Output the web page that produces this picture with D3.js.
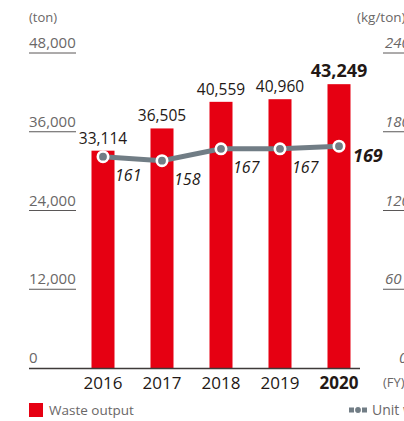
<!DOCTYPE html>
<html>
<head>
<meta charset="utf-8">
<script src="https://cdn.jsdelivr.net/npm/d3@7"></script>
<style>
  html, body { margin: 0; padding: 0; background: #fff; }
  svg { display: block; font-family: "Open Sans", "Noto Sans", sans-serif; }
</style>
</head>
<body>
<svg id="chart" width="404" height="421"></svg>
<script>
// Fiscal years and values
const years = ["2016", "2017", "2018", "2019", "2020"];
const wasteOutput = [33114, 36505, 40559, 40960, 43249];   // ton
const unitWaste = [161, 158, 167, 167, 169];               // kg/ton
const leftTicks = [0, 12000, 24000, 36000, 48000];
const rightTicks = [0, 60, 120, 180, 240];

const svg = d3.select("#chart");
const red = "#e60012";
const lineGray = "#717d85";
const textDark = "#231815";
const tickGray = "#6a6767";

const x = d3.scaleBand().domain(years).range([73.5, 368.5]).paddingInner(0.61).paddingOuter(0.305);
const yL = d3.scaleLinear().domain([0, 48000]).range([368, 53]);
const yR = d3.scaleLinear().domain([0, 240]).range([368, 53]);
const cx = d => x(d) + x.bandwidth() / 2;
const fmt = d3.format(",");
const last = years.length - 1;

// Left axis: underlined labels
const leftAxis = svg.append("g");
leftTicks.forEach(t => {
  const g = leftAxis.append("g").attr("transform", `translate(0,${yL(t)})`);
  if (t > 0) {
    g.append("line").attr("x1", 29).attr("x2", 76).attr("y1", 0).attr("y2", 0)
      .attr("stroke", "#5a5757").attr("stroke-width", 1);
  }
  g.append("text").attr("x", 29).attr("y", -5).attr("font-size", 15)
    .attr("fill", tickGray).text(t === 0 ? "0" : fmt(t));
});
svg.append("text").attr("x", 29).attr("y", 22).attr("font-size", 13)
  .attr("fill", tickGray).text("(ton)");

// Right axis: underlined italic labels
const rightAxis = svg.append("g");
rightTicks.forEach(t => {
  const g = rightAxis.append("g").attr("transform", `translate(0,${yR(t)})`);
  if (t > 0) {
    g.append("line").attr("x1", 383).attr("x2", 404).attr("y1", 0).attr("y2", 0)
      .attr("stroke", "#5a5757").attr("stroke-width", 1);
  }
  g.append("text").attr("x", t === 0 ? 399 : 385).attr("y", -5).attr("font-size", 15)
    .attr("font-style", "italic").attr("fill", tickGray).text(String(t));
});
svg.append("text").attr("x", 357).attr("y", 22).attr("font-size", 13.5)
  .attr("fill", tickGray).text("(kg/ton)");

// Bars
svg.append("g").selectAll("rect").data(wasteOutput).join("rect")
  .attr("x", (d, i) => x(years[i]))
  .attr("y", d => yL(d))
  .attr("width", x.bandwidth())
  .attr("height", d => yL(0) - yL(d))
  .attr("fill", red);

// Baseline
svg.append("line").attr("x1", 29).attr("x2", 360).attr("y1", 368.5).attr("y2", 368.5)
  .attr("stroke", "#3e3a39").attr("stroke-width", 1.5);

// Year labels
svg.append("g").selectAll("text").data(years).join("text")
  .attr("x", d => cx(d)).attr("y", 389)
  .attr("text-anchor", "middle").attr("font-size", 17)
  .attr("font-weight", (d, i) => i === last ? 700 : 400)
  .attr("fill", textDark).text(d => d);
svg.append("text").attr("x", 383).attr("y", 387).attr("font-size", 13)
  .attr("fill", tickGray).text("(FY)");

// Bar value labels
svg.append("g").selectAll("text").data(wasteOutput).join("text")
  .attr("x", (d, i) => cx(years[i])).attr("y", d => yL(d) - 7)
  .attr("text-anchor", "middle")
  .attr("font-size", (d, i) => i === last ? 18 : 15.5)
  .attr("font-weight", (d, i) => i === last ? 700 : 400)
  .attr("fill", textDark).text(d => fmt(d));

// Unit waste line
const line = d3.line().x((d, i) => cx(years[i])).y(d => yR(d));
svg.append("path").datum(unitWaste).attr("d", line)
  .attr("fill", "none").attr("stroke", lineGray).attr("stroke-width", 5);
svg.append("g").selectAll("circle").data(unitWaste).join("circle")
  .attr("cx", (d, i) => cx(years[i])).attr("cy", d => yR(d))
  .attr("r", 5.2).attr("fill", lineGray).attr("stroke", "#fff").attr("stroke-width", 2.6);

// Line value labels
svg.append("g").selectAll("text").data(unitWaste).join("text")
  .attr("x", (d, i) => cx(years[i]) + (i === last ? 14 : 12))
  .attr("y", (d, i) => yR(d) + (i === last ? 16 : 24))
  .attr("font-size", (d, i) => i === last ? 18 : 16)
  .attr("font-style", "italic")
  .attr("font-weight", (d, i) => i === last ? 700 : 400)
  .attr("fill", textDark)
  .text(d => d);

// Legend
svg.append("rect").attr("x", 29).attr("y", 403).attr("width", 14).attr("height", 14).attr("fill", red);
svg.append("text").attr("x", 49).attr("y", 415).attr("font-size", 13.5)
  .attr("fill", tickGray).text("Waste output");
const lg = svg.append("g").attr("transform", "translate(349,410)");
lg.append("rect").attr("x", 0).attr("y", -2.5).attr("width", 5).attr("height", 5).attr("fill", lineGray);
lg.append("rect").attr("x", 13).attr("y", -2.5).attr("width", 5).attr("height", 5).attr("fill", lineGray);
lg.append("circle").attr("cx", 9).attr("cy", 0).attr("r", 3.5).attr("fill", lineGray)
  .attr("stroke", "#fff").attr("stroke-width", 1.2);
lg.append("text").attr("x", 23).attr("y", 5).attr("font-size", 14)
  .attr("fill", tickGray).text("Unit waste output");
</script>
</body>
</html>
